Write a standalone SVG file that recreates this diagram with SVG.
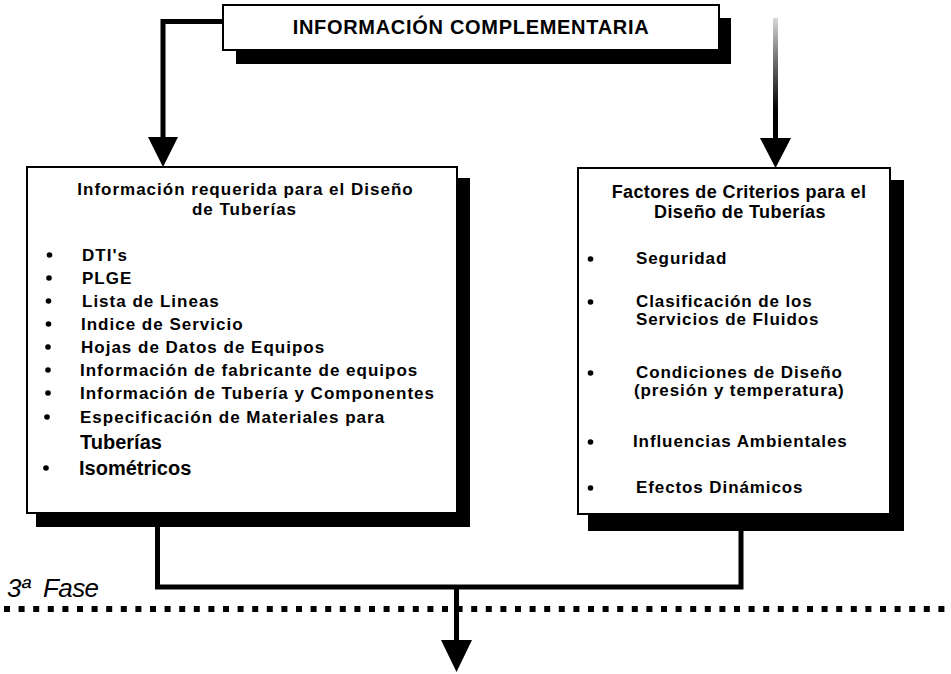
<svg xmlns="http://www.w3.org/2000/svg" width="951" height="674" viewBox="0 0 951 674">
<style>
text{font-family:"Liberation Sans",Arial,sans-serif;font-weight:bold;fill:#000}
.box{fill:#fff;stroke:#000;stroke-width:2}
.shadow{fill:#000}
.li{font-size:17px;letter-spacing:1px}
.lb{font-size:20px}
.hd{font-size:17px;letter-spacing:1px;text-anchor:middle}
.rh{font-size:18px;letter-spacing:0.4px;text-anchor:middle}
.ri{font-size:17px;letter-spacing:0.9px}
.conn{fill:none;stroke:#000;stroke-width:5}
.head{fill:#000}
</style>
<defs>
<linearGradient id="fade" gradientUnits="userSpaceOnUse" x1="0" y1="18" x2="0" y2="110">
<stop offset="0" stop-color="#d8d8d8"/>
<stop offset="0.5" stop-color="#666"/>
<stop offset="1" stop-color="#000"/>
</linearGradient>
</defs>
<g id="connectors">
<path class="conn" d="M223,21.5 H163 V140"/>
<polygon class="head" points="148,137 178,137 163,167"/>
<line x1="775.5" y1="18" x2="775.5" y2="141" stroke="url(#fade)" stroke-width="5"/>
<polygon class="head" points="760,138 791,138 775.5,168"/>
<path class="conn" d="M157.5,527 V587 H741 V531"/>
<line class="conn" x1="456.5" y1="587" x2="456.5" y2="642"/>
<polygon class="head" points="441,640 472,640 456.5,672"/>
</g>
<g id="phase">
<line x1="4" y1="609" x2="951" y2="609" stroke="#000" stroke-width="6" stroke-dasharray="6 8.6"/>
<text x="7" y="597" style="font-size:26px;font-weight:normal;font-style:italic;letter-spacing:-0.6px">3ª<tspan x="43">Fase</tspan></text>
</g>
<g id="top">
<rect class="shadow" x="236" y="18" width="495" height="46"/>
<rect class="box" x="223" y="5" width="496" height="45"/>
<text x="471" y="34" style="font-size:20px;letter-spacing:0.7px;text-anchor:middle">INFORMACIÓN COMPLEMENTARIA</text>
</g>
<g id="left">
<rect class="shadow" x="36" y="178" width="434" height="349"/>
<rect class="box" x="27" y="167" width="430" height="346"/>
<text class="hd" x="245.5" y="195">Información requerida para el Diseño</text>
<text class="hd" x="244.5" y="215">de Tuberías</text>
<g>
<circle cx="49.5" cy="255" r="2.8"/>
<circle cx="49" cy="278" r="2.8"/>
<circle cx="48.5" cy="301" r="2.8"/>
<circle cx="48.5" cy="324" r="2.8"/>
<circle cx="48" cy="347" r="2.8"/>
<circle cx="48" cy="370" r="2.8"/>
<circle cx="48" cy="393" r="2.8"/>
<circle cx="47" cy="417" r="2.8"/>
<circle cx="46" cy="468" r="2.8"/>
</g>
<text class="li" x="82" y="261">DTI's</text>
<text class="li" x="82" y="284">PLGE</text>
<text class="li" x="82" y="307">Lista de Lineas</text>
<text class="li" x="81" y="330">Indice de Servicio</text>
<text class="li" x="81" y="353">Hojas de Datos de Equipos</text>
<text class="li" x="80" y="376">Información de fabricante de equipos</text>
<text class="li" x="80" y="399">Información de Tubería y Componentes</text>
<text class="li" x="80" y="423">Especificación de Materiales para</text>
<text class="lb" x="80" y="449">Tuberías</text>
<text class="lb" x="79" y="475">Isométricos</text>
</g>
<g id="right">
<rect class="shadow" x="588" y="180" width="316" height="351"/>
<rect class="box" x="578" y="168" width="312" height="346"/>
<text class="rh" x="739" y="198">Factores de Criterios para el</text>
<text class="rh" x="740" y="218">Diseño de Tuberías</text>
<g>
<circle cx="590.5" cy="259" r="2.8"/>
<circle cx="590.5" cy="302" r="2.8"/>
<circle cx="590.5" cy="373" r="2.8"/>
<circle cx="590.5" cy="442" r="2.8"/>
<circle cx="590.5" cy="488" r="2.8"/>
</g>
<text class="ri" x="636" y="264">Seguridad</text>
<text class="ri" x="636" y="307">Clasificación de los</text>
<text class="ri" x="636" y="325">Servicios de Fluidos</text>
<text class="ri" x="636" y="378">Condiciones de Diseño</text>
<text class="ri" x="634" y="396">(presión y temperatura)</text>
<text class="ri" x="633" y="447">Influencias Ambientales</text>
<text class="ri" x="636" y="493">Efectos Dinámicos</text>
</g>
</svg>
